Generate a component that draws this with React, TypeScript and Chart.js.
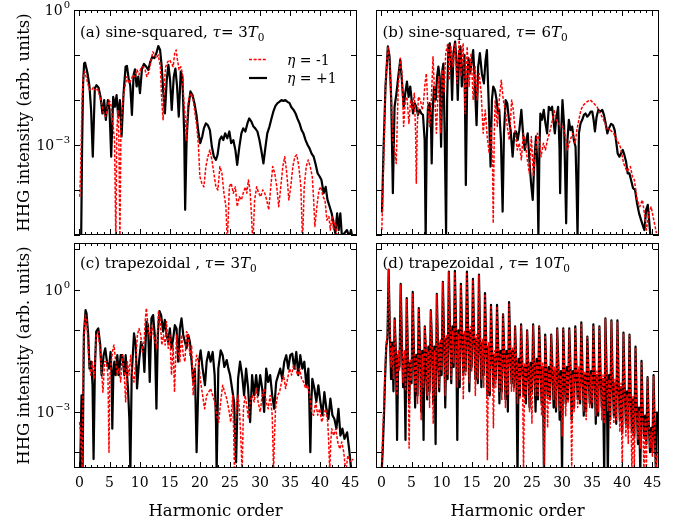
import React, { useEffect, useRef } from "react";
import { Chart, registerables } from "chart.js";

Chart.register(...registerables);

const W = 688;
const H = 522;
const SERIF = '"DejaVu Serif", "Liberation Serif", serif';

// x axis (harmonic order)
const HARMONIC_MIN = -0.9;
const HARMONIC_MAX = 46.1;
const X_MAJOR_TICKS = [0, 5, 10, 15, 20, 25, 30, 35, 40, 45];
const X_TICK_LABELS = ["0", "5", "10", "15", "20", "25", "30", "35", "40", "45"];
// y axis (log10 of HHG intensity)
const TOP_ROW_LOG_RANGE = [-5, 0];
const BOTTOM_ROW_LOG_RANGE = [-4.39, 1.156];
const Y_LABELED_EXPONENTS = [0, -3];
const Y_TICK_LABELS = ["0", "\u22123"];

const LEGEND_LABELS = ["-1", "+1"];
const X_TITLE = "Harmonic order";
const Y_TITLE = "HHG intensity (arb. units)";

// ---- series: [harmonic order, log10(intensity)] ----
const panelA_etaPlus1: [number, number][] = [
  [0.28,-5.2],[0.44,-3.1],[0.61,-1.63],[0.78,-1.19],[0.94,-1.17],[1.17,-1.3],[1.39,-1.44],[1.67,-1.7],[1.94,-2.22],[2.22,-3.26],
  [2.56,-1.74],[2.83,-1.67],[3.17,-1.72],[3.5,-1.93],[3.83,-2.3],[4.11,-2.0],[4.39,-2.44],[4.72,-2.0],[5.0,-2.22],[5.28,-3.26],
  [5.61,-1.93],[5.89,-2.15],[6.17,-1.89],[6.44,-2.37],[6.72,-2.0],[7.0,-2.81],[7.33,-1.85],[7.67,-1.26],[7.89,-1.24],[8.17,-1.52],
  [8.44,-1.67],[8.72,-2.33],[9.0,-1.44],[9.22,-1.32],[9.5,-1.7],[9.78,-1.48],[10.06,-1.85],[10.39,-1.3],[10.72,-1.2],[11.1,-1.26],
  [11.44,-1.33],[11.78,-1.15],[12.1,-1.04],[12.44,-1.07],[12.78,-0.96],[13.1,-0.8],[13.4,-0.89],[13.67,-1.26],[13.94,-1.85],[14.2,-2.3],
  [14.5,-1.56],[14.78,-1.22],[15.06,-1.56],[15.33,-2.22],[15.67,-1.48],[15.94,-1.3],[16.22,-1.7],[16.5,-2.37],[16.83,-1.37],[17.1,-1.48],
  [17.4,-2.74],[17.56,-4.44],[17.8,-2.89],[18.1,-2.15],[18.44,-1.81],[18.78,-1.89],[19.1,-2.07],[19.44,-2.33],[19.78,-2.74],[20.06,-2.96],
  [20.4,-2.81],[20.67,-2.63],[21.0,-2.52],[21.33,-2.56],[21.67,-2.67],[22.0,-3.04],[22.33,-3.26],[22.67,-3.33],[22.94,-3.22],[23.28,-2.89],
  [23.6,-2.81],[23.9,-2.89],[24.2,-2.74],[24.56,-2.85],[24.9,-2.7],[25.2,-2.96],[25.56,-2.89],[25.9,-3.11],[26.2,-3.44],[26.56,-3.04],
  [26.9,-2.74],[27.2,-2.63],[27.56,-2.7],[27.9,-2.52],[28.2,-2.41],[28.56,-2.48],[28.9,-2.59],[29.2,-2.63],[29.56,-2.7],[29.9,-2.89],
  [30.2,-3.11],[30.56,-3.41],[30.9,-3.04],[31.2,-2.74],[31.56,-2.59],[31.9,-2.41],[32.2,-2.26],[32.56,-2.13],[32.9,-2.07],[33.2,-2.04],
  [33.56,-2.0],[33.9,-2.02],[34.2,-2.0],[34.56,-2.04],[34.9,-2.07],[35.2,-2.16],[35.56,-2.22],[35.9,-2.3],[36.2,-2.41],[36.56,-2.52],
  [36.9,-2.67],[37.2,-2.74],[37.56,-2.89],[37.9,-3.0],[38.2,-3.07],[38.56,-3.19],[38.9,-3.26],[39.2,-3.41],[39.56,-3.63],[39.9,-3.7],
  [40.2,-3.78],[40.56,-4.07],[40.9,-3.93],[41.2,-4.22],[41.56,-4.37],[41.9,-4.52],[42.2,-4.74],[42.5,-4.96],[42.8,-4.52],[43.06,-4.89],
  [43.33,-4.52],[43.6,-5.04],[44.0,-4.96],[44.44,-4.89],[44.8,-5.04],[45.1,-4.89],[45.4,-5.1],
];

const panelA_etaMinus1: [number, number][] = [
  [0.06,-4.15],[0.22,-3.48],[0.44,-2.0],[0.67,-1.41],[0.89,-1.37],[1.1,-1.48],[1.39,-1.63],[1.67,-1.78],[2.0,-1.78],[2.33,-1.72],
  [2.67,-1.78],[3.0,-1.74],[3.33,-1.89],[3.67,-2.07],[4.0,-2.3],[4.33,-2.37],[4.6,-2.22],[4.9,-2.0],[5.2,-2.07],[5.56,-2.52],
  [5.83,-2.89],[6.05,-5.2],[6.2,-2.74],[6.4,-2.22],[6.56,-2.89],[6.72,-5.2],[6.9,-2.59],[7.2,-2.0],[7.56,-1.7],[7.9,-1.48],
  [8.2,-1.63],[8.56,-1.56],[8.9,-1.44],[9.2,-1.48],[9.56,-1.33],[9.9,-1.44],[10.2,-1.3],[10.56,-1.26],[10.9,-1.33],[11.2,-1.48],
  [11.56,-1.37],[11.9,-1.11],[12.2,-0.93],[12.5,-1.0],[12.78,-1.07],[13.1,-1.0],[13.44,-1.26],[13.67,-2.0],[13.9,-2.44],[14.1,-1.63],
  [14.33,-1.26],[14.67,-1.15],[15.0,-1.11],[15.28,-1.19],[15.56,-1.26],[15.83,-0.96],[16.06,-0.89],[16.28,-1.11],[16.56,-1.33],[16.83,-1.26],
  [17.1,-1.41],[17.33,-2.0],[17.56,-2.37],[17.78,-2.89],[18.0,-2.15],[18.2,-1.93],[18.56,-1.85],[18.9,-2.0],[19.2,-2.3],[19.5,-2.59],
  [19.78,-3.04],[20.0,-3.7],[20.33,-3.85],[20.67,-3.93],[21.0,-3.48],[21.33,-3.26],[21.67,-3.11],[22.0,-3.33],[22.33,-3.63],[22.67,-3.93],
  [23.0,-4.0],[23.33,-3.48],[23.67,-3.63],[24.0,-4.07],[24.33,-4.37],[24.56,-5.2],[24.9,-3.93],[25.2,-3.85],[25.56,-4.07],[25.9,-3.93],
  [26.2,-4.37],[26.56,-4.15],[26.9,-4.22],[27.2,-4.07],[27.56,-3.93],[27.8,-4.07],[28.06,-3.78],[28.33,-4.0],[28.56,-4.52],[28.8,-5.2],
  [29.1,-4.22],[29.44,-3.93],[29.78,-4.07],[30.1,-4.15],[30.44,-4.0],[30.78,-4.07],[31.1,-4.22],[31.44,-4.44],[31.78,-3.93],[32.1,-3.48],
  [32.44,-3.63],[32.78,-3.93],[33.1,-4.37],[33.44,-3.93],[33.78,-3.48],[34.1,-3.26],[34.44,-3.63],[34.78,-4.22],[35.1,-3.93],[35.44,-3.48],
  [35.78,-3.26],[36.1,-3.22],[36.44,-3.48],[36.78,-3.93],[37.06,-5.2],[37.33,-3.93],[37.67,-3.48],[38.0,-3.33],[38.33,-3.48],[38.67,-3.7],
  [38.9,-4.22],[39.1,-4.81],[39.44,-4.37],[39.78,-4.0],[40.1,-3.93],[40.44,-4.15],[40.78,-4.22],[41.1,-4.67],[41.44,-4.59],[41.67,-4.89],
  [41.94,-4.59],[42.2,-4.89],[42.5,-4.67],[42.8,-5.1],[43.1,-5.2],
];

const panelB_etaPlus1: [number, number][] = [
  [0.1,-4.5],[0.35,-3.11],[0.68,-1.7],[1.07,-0.81],[1.35,-1.04],[1.63,-2.0],[1.9,-4.07],[2.18,-2.15],[2.46,-1.89],[2.8,-1.48],
  [3.13,-1.11],[3.4,-1.56],[3.69,-2.15],[3.96,-1.85],[4.24,-1.59],[4.52,-1.93],[4.79,-1.7],[5.02,-2.0],[5.24,-2.3],[5.52,-2.07],
  [5.79,-2.15],[6.07,-2.33],[6.35,-2.22],[6.63,-2.3],[6.9,-2.33],[7.18,-2.89],[7.35,-5.1],[7.52,-2.89],[7.74,-2.15],[8.02,-2.07],
  [8.24,-2.59],[8.35,-3.41],[8.52,-2.22],[8.74,-1.7],[9.02,-2.0],[9.24,-1.48],[9.46,-1.26],[9.68,-1.48],[9.91,-3.04],[10.13,-1.33],
  [10.29,-1.19],[10.52,-2.89],[10.74,-4.96],[10.91,-2.0],[11.13,-0.81],[11.35,-0.74],[11.57,-1.26],[11.74,-2.0],[11.96,-0.96],[12.24,-0.7],
  [12.46,-1.11],[12.68,-2.0],[12.91,-0.96],[13.13,-0.81],[13.35,-1.7],[13.57,-1.26],[13.8,-1.0],[14.02,-3.89],[14.24,-1.63],[14.46,-1.07],
  [14.74,-1.41],[15.02,-1.11],[15.24,-0.89],[15.52,-1.63],[15.8,-2.56],[16.07,-1.26],[16.35,-0.96],[16.68,-1.41],[17.02,-1.63],[17.3,-1.11],
  [17.52,-0.89],[17.8,-2.0],[18.13,-3.48],[18.35,-2.0],[18.57,-1.7],[18.85,-1.78],[19.13,-2.0],[19.35,-2.3],[19.57,-2.22],[19.85,-2.89],
  [20.13,-4.48],[20.35,-2.74],[20.63,-2.0],[20.9,-2.07],[21.18,-2.44],[21.46,-2.67],[21.79,-3.26],[22.07,-2.74],[22.35,-2.7],[22.63,-2.89],
  [22.9,-2.67],[23.24,-2.22],[23.52,-2.74],[23.8,-3.11],[24.07,-2.89],[24.3,-2.74],[24.57,-3.33],[24.85,-3.85],[25.13,-4.22],[25.4,-3.33],
  [25.68,-2.81],[25.9,-3.48],[26.07,-5.04],[26.24,-3.11],[26.4,-2.3],[26.68,-2.44],[26.96,-2.22],[27.24,-2.52],[27.52,-2.74],[27.8,-2.15],
  [28.07,-2.22],[28.35,-2.15],[28.57,-2.44],[28.8,-2.74],[29.07,-2.37],[29.35,-2.15],[29.57,-3.04],[29.68,-4.07],[29.85,-2.74],[30.07,-2.0],
  [30.35,-2.59],[30.68,-4.74],[30.9,-2.89],[31.13,-2.44],[31.4,-2.67],[31.68,-2.59],[31.96,-2.89],[32.24,-3.04],[32.41,-3.93],[32.57,-5.04],
  [32.8,-2.74],[33.07,-2.52],[33.35,-2.44],[33.63,-2.33],[33.9,-2.3],[34.18,-2.37],[34.46,-2.33],[34.74,-2.26],[35.02,-2.26],[35.24,-2.44],
  [35.46,-2.7],[35.74,-2.37],[36.02,-2.22],[36.35,-2.26],[36.68,-2.22],[36.96,-2.33],[37.24,-2.52],[37.52,-2.74],[37.79,-2.63],[38.13,-2.53],
  [38.46,-2.56],[38.74,-2.67],[39.02,-2.96],[39.24,-3.19],[39.52,-3.26],[39.79,-3.19],[40.07,-3.11],[40.35,-3.22],[40.63,-3.37],[40.9,-3.63],
  [41.18,-3.63],[41.46,-3.78],[41.79,-3.96],[42.13,-4.0],[42.46,-4.3],[42.79,-4.52],[43.13,-4.67],[43.46,-4.81],[43.68,-4.89],[43.96,-4.44],
  [44.24,-4.33],[44.46,-4.67],[44.68,-5.04],
];

const panelB_etaMinus1: [number, number][] = [
  [0.07,-4.89],[0.35,-3.48],[0.68,-1.63],[1.07,-0.81],[1.35,-1.11],[1.63,-1.93],[1.9,-2.89],[2.18,-3.11],[2.46,-3.41],[2.79,-1.7],
  [3.13,-1.07],[3.4,-1.41],[3.69,-2.59],[3.96,-2.0],[4.24,-1.93],[4.57,-2.52],[4.85,-2.0],[5.13,-2.22],[5.46,-1.85],[5.68,-2.74],
  [5.79,-3.85],[5.96,-2.59],[6.13,-1.93],[6.46,-2.0],[6.79,-2.22],[7.02,-2.0],[7.24,-1.63],[7.46,-1.41],[7.74,-2.22],[8.02,-2.59],
  [8.29,-2.0],[8.57,-1.04],[8.85,-1.93],[9.13,-2.74],[9.35,-2.0],[9.57,-1.48],[9.85,-2.74],[10.13,-1.33],[10.41,-1.85],[10.68,-0.96],
  [11.02,-0.74],[11.24,-1.56],[11.52,-0.81],[11.9,-1.26],[12.24,-0.74],[12.57,-1.63],[12.9,-0.67],[13.24,-1.48],[13.57,-0.74],[13.9,-2.3],
  [14.24,-0.81],[14.57,-1.7],[14.9,-0.96],[15.24,-2.0],[15.57,-1.26],[15.9,-2.0],[16.24,-1.41],[16.57,-1.85],[16.9,-2.74],[17.24,-2.22],
  [17.57,-2.81],[17.9,-3.19],[18.24,-2.59],[18.46,-3.48],[18.57,-4.74],[18.74,-2.74],[18.9,-2.0],[19.24,-2.59],[19.57,-2.0],[19.9,-1.56],
  [20.24,-2.0],[20.57,-2.22],[20.9,-2.59],[21.24,-2.89],[21.63,-2.0],[21.9,-2.22],[22.24,-2.74],[22.57,-3.11],[22.9,-2.96],[23.24,-3.33],
  [23.57,-2.74],[23.9,-2.96],[24.24,-3.33],[24.57,-3.63],[24.9,-2.81],[25.24,-3.7],[25.57,-3.19],[25.9,-2.74],[26.24,-2.89],[26.51,-3.26],
  [26.9,-2.96],[27.24,-3.11],[27.57,-2.89],[27.9,-2.74],[28.29,-2.52],[28.68,-2.22],[29.02,-2.44],[29.46,-2.52],[29.79,-2.59],[30.13,-2.59],
  [30.46,-2.74],[30.9,-3.11],[31.35,-2.89],[31.79,-2.74],[32.18,-2.96],[32.46,-2.67],[32.79,-2.44],[33.13,-2.22],[33.57,-2.11],[34.13,-2.04],
  [34.68,-2.0],[35.24,-2.07],[35.79,-2.15],[36.35,-2.3],[36.9,-2.44],[37.46,-2.63],[38.02,-2.67],[38.57,-2.74],[39.13,-2.89],[39.68,-3.04],
  [40.24,-3.41],[40.79,-3.59],[41.35,-3.48],[41.68,-3.7],[42.02,-3.78],[42.46,-4.22],[42.9,-4.37],[43.35,-4.22],[43.68,-4.52],[44.02,-4.89],
  [44.4,-4.52],[44.79,-4.37],[45.24,-4.67],[45.68,-4.96],
];

const panelC_etaPlus1: [number, number][] = [
  [0.1,-4.6],[0.35,-2.6],[0.52,-4.6],[0.74,-1.11],[1.02,-0.5],[1.18,-0.58],[1.46,-1.11],[1.68,-1.94],[1.96,-1.77],[2.18,-2.35],
  [2.35,-4.17],[2.57,-1.94],[2.79,-1.03],[3.13,-0.95],[3.46,-1.36],[3.68,-2.1],[4.02,-1.61],[4.29,-1.44],[4.57,-1.77],[4.91,-1.94],
  [5.18,-1.53],[5.35,-2.1],[5.46,-3.42],[5.63,-2.1],[5.79,-1.77],[6.02,-2.1],[6.29,-1.61],[6.57,-2.1],[6.85,-1.61],[7.13,-1.61],
  [7.46,-2.1],[7.68,-1.61],[8.07,-2.43],[8.29,-3.18],[8.46,-4.5],[8.68,-2.1],[9.07,-1.07],[9.35,-1.36],[9.57,-2.43],[9.9,-1.77],
  [10.24,-1.28],[10.57,-1.44],[10.79,-2.02],[11.13,-0.78],[11.4,-0.87],[11.68,-2.27],[11.96,-0.7],[12.24,-0.62],[12.51,-1.11],[12.79,-2.93],
  [13.02,-1.11],[13.29,-0.52],[13.57,-0.62],[13.9,-1.03],[14.18,-0.74],[14.46,-1.11],[14.74,-1.28],[15.02,-0.95],[15.29,-1.44],[15.57,-1.2],
  [15.85,-0.87],[16.13,-0.95],[16.4,-1.77],[16.68,-0.95],[16.96,-0.7],[17.24,-1.11],[17.52,-1.28],[17.79,-1.44],[18.07,-1.11],[18.35,-1.28],
  [18.63,-1.77],[18.9,-2.27],[19.18,-1.94],[19.46,-4.0],[19.85,-1.77],[20.13,-1.49],[20.46,-1.94],[20.85,-2.35],[21.13,-1.77],[21.46,-1.53],
  [21.79,-1.77],[22.13,-1.53],[22.46,-2.1],[22.68,-3.26],[22.79,-4.5],[23.07,-1.94],[23.46,-1.49],[23.79,-1.61],[24.07,-1.9],[24.46,-1.73],
  [24.74,-1.94],[25.02,-2.1],[25.35,-2.43],[25.68,-2.76],[26.02,-4.25],[26.35,-2.19],[26.68,-1.77],[27.02,-2.1],[27.35,-2.6],[27.68,-1.94],
  [28.02,-2.43],[28.35,-3.26],[28.68,-2.1],[29.02,-2.6],[29.35,-2.1],[29.68,-2.6],[30.02,-2.1],[30.35,-2.43],[30.68,-3.01],[31.02,-1.94],
  [31.35,-2.27],[31.68,-2.1],[32.02,-2.6],[32.35,-2.93],[32.68,-2.27],[33.02,-2.1],[33.35,-1.94],[33.68,-2.19],[34.02,-1.77],[34.35,-1.61],
  [34.68,-1.94],[35.02,-1.61],[35.35,-1.57],[35.68,-1.94],[36.02,-1.53],[36.35,-2.1],[36.68,-1.61],[37.02,-1.94],[37.35,-1.77],[37.68,-2.35],
  [38.02,-1.94],[38.18,-2.76],[38.35,-4.0],[38.52,-2.76],[38.68,-2.19],[39.02,-2.43],[39.35,-2.76],[39.68,-2.35],[40.02,-2.76],[40.35,-3.09],
  [40.68,-2.52],[41.02,-2.93],[41.35,-3.18],[41.68,-2.68],[42.02,-3.09],[42.35,-3.18],[42.68,-3.42],[43.02,-2.93],[43.35,-3.59],[43.68,-3.42],
  [44.02,-3.67],[44.46,-3.51],[44.79,-3.92],[45.13,-4.41],[45.57,-4.5],
];

const panelC_etaMinus1: [number, number][] = [
  [0.02,-3.26],[0.24,-3.59],[0.46,-4.5],[0.68,-1.36],[0.96,-0.62],[1.24,-0.78],[1.46,-1.44],[1.68,-1.86],[1.9,-2.1],[2.13,-1.77],
  [2.46,-2.19],[2.79,-1.11],[3.07,-1.03],[3.35,-1.36],[3.63,-1.86],[3.9,-2.52],[4.18,-1.77],[4.46,-1.77],[4.74,-2.1],[4.91,-4.0],
  [5.07,-2.1],[5.29,-1.77],[5.57,-1.44],[5.74,-1.36],[6.02,-1.77],[6.29,-2.1],[6.57,-1.94],[6.85,-2.27],[7.13,-1.61],[7.4,-1.94],
  [7.68,-2.76],[7.96,-1.77],[8.24,-2.1],[8.52,-1.61],[8.79,-2.1],[9.07,-2.27],[9.35,-1.77],[9.63,-1.11],[9.9,-0.95],[10.18,-1.11],
  [10.46,-1.53],[10.74,-1.28],[10.96,-0.7],[11.13,-0.45],[11.4,-0.95],[11.68,-1.2],[12.02,-0.87],[12.29,-1.11],[12.57,-1.28],[12.85,-1.44],
  [13.13,-0.54],[13.4,-0.7],[13.68,-1.36],[13.96,-1.11],[14.24,-1.36],[14.46,-0.78],[14.74,-1.44],[15.02,-1.11],[15.29,-2.1],[15.57,-1.36],
  [15.79,-2.52],[16.13,-1.11],[16.4,-1.53],[16.68,-1.77],[16.96,-1.11],[17.24,-1.61],[17.52,-1.77],[17.79,-1.03],[18.07,-1.11],[18.35,-1.61],
  [18.63,-1.36],[18.9,-2.6],[19.18,-2.02],[19.46,-1.61],[19.79,-1.77],[20.13,-2.27],[20.46,-2.6],[20.79,-2.93],[21.13,-2.6],[21.46,-2.52],
  [21.79,-2.43],[22.13,-2.6],[22.46,-2.76],[22.79,-3.09],[23.13,-3.26],[23.46,-2.76],[23.79,-2.35],[24.13,-2.52],[24.46,-2.68],[24.79,-2.93],
  [25.13,-3.26],[25.46,-2.6],[25.63,-3.59],[25.74,-4.5],[25.9,-3.26],[26.13,-2.76],[26.35,-2.6],[26.57,-2.93],[26.79,-3.59],[27.02,-4.5],
  [27.24,-2.93],[27.52,-2.6],[27.79,-2.85],[28.07,-3.18],[28.35,-2.76],[28.68,-2.6],[29.02,-2.76],[29.35,-2.43],[29.68,-2.76],[30.02,-3.01],
  [30.35,-2.6],[30.68,-2.43],[31.02,-2.76],[31.35,-2.93],[31.68,-2.6],[32.02,-3.09],[32.13,-3.75],[32.24,-4.5],[32.4,-3.59],[32.57,-2.93],
  [32.9,-2.6],[33.24,-2.52],[33.57,-2.27],[33.9,-2.1],[34.24,-2.43],[34.57,-2.19],[34.9,-1.94],[35.24,-2.1],[35.57,-1.86],[35.9,-1.94],
  [36.24,-2.1],[36.57,-1.94],[36.9,-2.19],[37.24,-2.27],[37.57,-2.43],[37.9,-2.35],[38.24,-2.6],[38.57,-3.01],[38.9,-3.09],[39.24,-2.76],
  [39.57,-3.09],[39.9,-2.93],[40.24,-3.26],[40.57,-3.09],[40.9,-2.93],[41.24,-3.26],[41.4,-3.75],[41.57,-4.5],[41.74,-3.75],[41.9,-3.42],
  [42.24,-3.59],[42.57,-3.42],[42.9,-3.75],[43.24,-3.92],[43.57,-3.75],[43.9,-4.0],[44.24,-4.5],[44.57,-4.08],[45.02,-4.25],[45.46,-4.17],
];

// Panel (d): sampled every 0.2 harmonic orders starting at 0 (5 samples per order)
const PANEL_D_STEP = 0.2;
const panelD_etaPlus1_log: number[] = [
  -4.6,-4.0,-3.2,-2.2,-1.4,   -1.2,0.5,-1.0,-2.2,-1.3,    -2.5,-0.7,-1.5,-3.7,-1.6,   -1.9,0.15,-1.3,-2.4,-1.7,
  -3.7,-0.2,-1.6,-2.8,-1.8,   -2.3,-0.05,-1.5,-2.9,-1.6,  -2.6,-0.45,-1.4,-3.0,-1.5,  -3.7,-0.9,-1.6,-2.7,-1.4,
  -2.5,-0.5,-1.3,-2.8,-1.4,   -3.8,-0.1,-1.4,-2.5,-1.3,   -2.1,0.2,-1.1,-2.9,-1.2,    -2.2,0.45,-1.0,-2.3,-0.9,
  -1.9,0.47,-0.9,-3.7,-1.0,   -2.4,0.15,-1.0,-2.1,-1.1,   -2.0,0.45,-1.0,-2.5,-1.0,   -1.9,0.27,-1.1,-2.2,-1.2,
  -2.3,0.38,-1.2,-2.4,-1.3,   -2.1,-0.08,-1.3,-2.6,-1.4,  -2.6,-0.37,-1.5,-2.4,-1.6,  -2.2,-0.37,-1.4,-2.8,-1.5,
  -2.5,-0.6,-1.5,-2.7,-1.5,   -3.0,-0.3,-1.4,-2.3,-1.5,   -2.4,-0.9,-1.8,-4.6,-1.7,   -2.6,-0.85,-1.8,-2.6,-1.9,
  -2.8,-1.0,-1.9,-2.9,-1.8,   -2.5,-0.85,-1.9,-3.0,-1.7,  -2.7,-0.9,-1.8,-2.8,-1.9,   -4.6,-1.1,-2.0,-2.6,-1.9,
  -2.7,-1.1,-1.9,-2.9,-2.0,   -3.0,-0.95,-1.9,-3.2,-2.0,  -4.6,-0.95,-2.0,-2.8,-1.9,  -2.7,-0.95,-1.9,-3.2,-2.0,
  -2.9,-0.9,-2.0,-2.7,-2.0,   -2.8,-0.8,-2.0,-3.1,-2.1,   -3.0,-1.15,-2.1,-2.8,-2.0,  -2.9,-0.85,-2.0,-3.3,-2.1,
  -3.1,-0.9,-2.1,-2.9,-2.2,   -4.6,-0.7,-2.0,-4.6,-2.1,   -3.2,-0.75,-2.2,-3.1,-2.3,  -3.3,-0.75,-2.3,-3.2,-2.4,
  -3.5,-1.05,-2.4,-3.3,-2.5,  -3.4,-1.1,-2.6,-3.5,-2.7,   -3.6,-1.4,-2.8,-3.8,-2.9,   -4.6,-1.75,-3.0,-3.6,-3.1,
  -3.8,-2.15,-3.3,-4.0,-3.4,  -4.0,-2.1,-3.5,-4.6,-3.0,
];
const panelD_etaMinus1_log: number[] = [
  -4.6,-3.6,-2.9,-2.0,-1.3,   -1.1,0.5,-0.9,-1.9,-1.4,    -2.2,-0.75,-1.4,-2.6,-1.5,  -2.0,0.12,-1.2,-2.3,-1.5,
  -2.5,-0.22,-1.5,-3.9,-1.7,  -2.2,-0.08,-1.4,-2.5,-1.7,  -2.8,-0.45,-1.5,-3.2,-1.6,  -2.4,-0.92,-1.3,-2.6,-1.5,
  -2.9,-0.52,-1.2,-3.3,-1.5,  -2.6,-0.12,-1.3,-2.4,-1.2,  -2.0,0.18,-1.0,-2.6,-1.1,   -2.1,0.44,-0.9,-2.2,-1.0,
  -1.8,0.45,-1.0,-2.4,-1.1,   -2.2,0.13,-0.9,-2.7,-1.0,   -2.1,0.44,-1.1,-2.3,-0.9,   -2.0,0.25,-1.0,-2.6,-1.1,
  -2.2,0.36,-1.1,-2.2,-1.2,   -2.4,-0.1,-1.2,-4.2,-1.3,   -2.5,-0.38,-1.4,-3.4,-1.5,  -2.4,-0.4,-1.5,-2.5,-1.6,
  -2.7,-0.62,-1.4,-2.9,-1.6,  -2.6,-0.32,-1.5,-2.5,-1.4,  -2.5,-0.92,-1.7,-2.8,-1.8,  -2.7,-0.87,-1.7,-4.5,-1.8,
  -2.6,-1.0,-1.8,-3.0,-1.9,   -3.3,-0.88,-2.0,-2.6,-1.8,  -2.6,-0.9,-1.9,-3.1,-1.8,   -4.5,-1.12,-1.9,-3.4,-2.0,
  -2.8,-1.12,-2.0,-2.7,-1.9,  -2.9,-0.97,-2.0,-3.0,-2.1,  -3.6,-0.97,-1.9,-3.1,-2.0,  -2.8,-0.97,-2.0,-4.4,-2.1,
  -3.0,-0.92,-1.9,-2.9,-1.9,  -2.7,-0.82,-2.1,-3.0,-2.0,  -3.2,-1.17,-2.0,-2.9,-2.1,  -2.8,-0.87,-2.1,-3.1,-2.0,
  -3.0,-0.92,-2.0,-3.2,-2.1,  -3.3,-0.72,-2.2,-3.0,-2.2,  -3.4,-0.77,-2.1,-3.3,-2.2,  -3.2,-0.78,-2.4,-3.5,-2.3,
  -4.5,-1.07,-2.5,-3.6,-2.6,  -3.8,-1.12,-2.7,-4.5,-2.6,  -4.5,-1.42,-2.9,-3.7,-3.0,  -3.9,-1.77,-3.1,-4.5,-3.2,
  -4.5,-2.17,-3.2,-3.9,-3.5,  -4.1,-2.12,-3.6,-4.5,-4.0,
];

type Part = { t: string; it?: boolean; sub?: boolean };

const panelA_title: Part[] = [{ t: "(a) sine-squared, " }, { t: "\u03c4", it: true }, { t: "= 3" }, { t: "T", it: true }, { t: "0", sub: true }];
const panelB_title: Part[] = [{ t: "(b) sine-squared, " }, { t: "\u03c4", it: true }, { t: "= 6" }, { t: "T", it: true }, { t: "0", sub: true }];
const panelC_title: Part[] = [{ t: "(c) trapezoidal , " }, { t: "\u03c4", it: true }, { t: "= 3" }, { t: "T", it: true }, { t: "0", sub: true }];
const panelD_title: Part[] = [{ t: "(d) trapezoidal , " }, { t: "\u03c4", it: true }, { t: "= 10" }, { t: "T", it: true }, { t: "0", sub: true }];

type Pad = { left: number; top: number; right: number; bottom: number };
type PanelSpec = {
  id: string;
  pad: Pad;
  logRange: number[];
  title: Part[];
  titlePos: [number, number];
  yLabels: boolean;
  xLabels: boolean;
  legend: boolean;
  minus: { x: number; y: number }[];
  plus: { x: number; y: number }[];
};

const fromPairs = (arr: [number, number][]) => arr.map(([x, l]) => ({ x, y: Math.pow(10, l) }));
const fromGrid = (arr: number[], step: number) => arr.map((l, i) => ({ x: +(i * step).toFixed(2), y: Math.pow(10, l) }));

function drawParts(ctx: CanvasRenderingContext2D, x: number, y: number, parts: Part[], size: number) {
  let cx = x;
  for (const p of parts) {
    const s = p.sub ? size * 0.7 : size;
    ctx.font = `${p.it ? "italic " : ""}${s}px ${SERIF}`;
    const dy = p.sub ? size * 0.25 : 0;
    ctx.fillText(p.t, cx, y + dy);
    cx += ctx.measureText(p.t).width;
  }
}

function decorPlugin(spec: PanelSpec) {
  return {
    id: "decor_" + spec.id,
    afterDraw(chart: any) {
      const ctx: CanvasRenderingContext2D = chart.ctx;
      const { left, right, top, bottom } = chart.chartArea;
      const xs = chart.scales.x;
      const ys = chart.scales.y;
      ctx.save();
      ctx.strokeStyle = "#000";
      ctx.fillStyle = "#000";
      ctx.lineWidth = 1;
      ctx.setLineDash([]);
      ctx.strokeRect(left + 0.5, top + 0.5, right - left - 1, bottom - top - 1);
      ctx.beginPath();
      for (let v = 0; v <= Math.floor(HARMONIC_MAX); v++) {
        const px = Math.round(xs.getPixelForValue(v)) + 0.5;
        const len = v % 5 === 0 ? 6 : 3;
        ctx.moveTo(px, bottom);
        ctx.lineTo(px, bottom - len);
        ctx.moveTo(px, top);
        ctx.lineTo(px, top + len);
      }
      const [lo, hi] = spec.logRange;
      for (let e = Math.ceil(lo); e <= Math.floor(hi); e++) {
        const py = Math.round(ys.getPixelForValue(Math.pow(10, e))) + 0.5;
        ctx.moveTo(left, py);
        ctx.lineTo(left + 6, py);
        ctx.moveTo(right, py);
        ctx.lineTo(right - 6, py);
      }
      ctx.stroke();

      // y tick labels
      if (spec.yLabels) {
        Y_LABELED_EXPONENTS.forEach((e, i) => {
          const py = ys.getPixelForValue(Math.pow(10, e));
          ctx.font = `14px ${SERIF}`;
          const wBase = ctx.measureText("10").width;
          ctx.font = `10px ${SERIF}`;
          const wExp = ctx.measureText(Y_TICK_LABELS[i]).width;
          const xEnd = left - 4;
          const x0 = xEnd - wExp - wBase - 1;
          ctx.textAlign = "left";
          ctx.textBaseline = "alphabetic";
          ctx.font = `14px ${SERIF}`;
          ctx.fillText("10", x0, py + 5);
          ctx.font = `10px ${SERIF}`;
          ctx.fillText(Y_TICK_LABELS[i], x0 + wBase + 1, py - 2);
        });
        ctx.save();
        ctx.translate(29, (top + bottom) / 2);
        ctx.rotate(-Math.PI / 2);
        ctx.font = `16.5px ${SERIF}`;
        ctx.textAlign = "center";
        ctx.textBaseline = "alphabetic";
        ctx.fillText(Y_TITLE, 0, 0);
        ctx.restore();
      }
      // x tick labels
      if (spec.xLabels) {
        ctx.font = `14px ${SERIF}`;
        ctx.textAlign = "center";
        ctx.textBaseline = "alphabetic";
        X_MAJOR_TICKS.forEach((v, i) => {
          ctx.fillText(X_TICK_LABELS[i], xs.getPixelForValue(v), 487);
        });
        ctx.font = `16.5px ${SERIF}`;
        ctx.fillText(X_TITLE, (left + right) / 2, 516);
      }
      // panel title
      ctx.textAlign = "left";
      ctx.textBaseline = "alphabetic";
      drawParts(ctx, spec.titlePos[0], spec.titlePos[1], spec.title, 15);

      // legend
      if (spec.legend) {
        const rows = [
          { y: 59.5, color: "#ff0000", width: 1.5, dash: [3, 1.6], label: LEGEND_LABELS[0] },
          { y: 78, color: "#000000", width: 2.2, dash: [] as number[], label: LEGEND_LABELS[1] },
        ];
        for (const r of rows) {
          ctx.beginPath();
          ctx.strokeStyle = r.color;
          ctx.lineWidth = r.width;
          ctx.setLineDash(r.dash);
          ctx.moveTo(249, r.y);
          ctx.lineTo(267, r.y);
          ctx.stroke();
          ctx.setLineDash([]);
          ctx.fillStyle = "#000";
          drawParts(ctx, 287, r.y + 5, [{ t: "\u03b7", it: true }, { t: " = " + r.label }], 14);
        }
      }
      ctx.restore();
    },
  };
}

function makeConfig(spec: PanelSpec): any {
  return {
    type: "line",
    data: {
      datasets: [
        {
          label: "eta = -1",
          data: spec.minus,
          borderColor: "#ff0000",
          borderWidth: 1.5,
          borderDash: [3, 1.6],
          borderJoinStyle: "round",
          pointRadius: 0,
          tension: 0,
          fill: false,
          clip: 0,
        },
        {
          label: "eta = +1",
          data: spec.plus,
          borderColor: "#000000",
          borderWidth: 2.2,
          borderJoinStyle: "round",
          pointRadius: 0,
          tension: 0,
          fill: false,
          clip: 0,
        },
      ],
    },
    options: {
      responsive: false,
      maintainAspectRatio: false,
      animation: false,
      devicePixelRatio: 1,
      events: [],
      layout: { padding: spec.pad },
      plugins: { legend: { display: false }, tooltip: { enabled: false }, title: { display: false } },
      scales: {
        x: { type: "linear", display: false, min: HARMONIC_MIN, max: HARMONIC_MAX, bounds: "data" },
        y: {
          type: "logarithmic",
          display: false,
          min: Math.pow(10, spec.logRange[0]),
          max: Math.pow(10, spec.logRange[1]),
          bounds: "data",
        },
      },
    },
    plugins: [decorPlugin(spec)],
  };
}

const SPECS: PanelSpec[] = [
  {
    id: "a",
    pad: { left: 74, top: 10, right: W - 357, bottom: H - 235 },
    logRange: TOP_ROW_LOG_RANGE,
    title: panelA_title,
    titlePos: [80, 37],
    yLabels: true,
    xLabels: false,
    legend: true,
    minus: fromPairs(panelA_etaMinus1),
    plus: fromPairs(panelA_etaPlus1),
  },
  {
    id: "b",
    pad: { left: 376, top: 10, right: W - 659, bottom: H - 235 },
    logRange: TOP_ROW_LOG_RANGE,
    title: panelB_title,
    titlePos: [382.5, 37],
    yLabels: false,
    xLabels: false,
    legend: false,
    minus: fromPairs(panelB_etaMinus1),
    plus: fromPairs(panelB_etaPlus1),
  },
  {
    id: "c",
    pad: { left: 74, top: 243, right: W - 357, bottom: H - 468 },
    logRange: BOTTOM_ROW_LOG_RANGE,
    title: panelC_title,
    titlePos: [80, 268],
    yLabels: true,
    xLabels: true,
    legend: false,
    minus: fromPairs(panelC_etaMinus1),
    plus: fromPairs(panelC_etaPlus1),
  },
  {
    id: "d",
    pad: { left: 376, top: 243, right: W - 659, bottom: H - 468 },
    logRange: BOTTOM_ROW_LOG_RANGE,
    title: panelD_title,
    titlePos: [382.5, 268],
    yLabels: false,
    xLabels: true,
    legend: false,
    minus: fromGrid(panelD_etaMinus1_log, PANEL_D_STEP),
    plus: fromGrid(panelD_etaPlus1_log, PANEL_D_STEP),
  },
];

function Panel({ spec }: { spec: PanelSpec }) {
  const ref = useRef<HTMLCanvasElement | null>(null);
  useEffect(() => {
    if (!ref.current) return;
    const chart = new Chart(ref.current, makeConfig(spec));
    return () => chart.destroy();
  }, [spec]);
  return (
    <canvas
      ref={ref}
      width={W}
      height={H}
      style={{ position: "absolute", left: 0, top: 0, width: W, height: H }}
    />
  );
}

export default function App() {
  return (
    <div style={{ position: "fixed", left: 0, top: 0, width: W, height: H, background: "#fff", overflow: "hidden" }}>
      {SPECS.map((s) => (
        <Panel key={s.id} spec={s} />
      ))}
    </div>
  );
}
